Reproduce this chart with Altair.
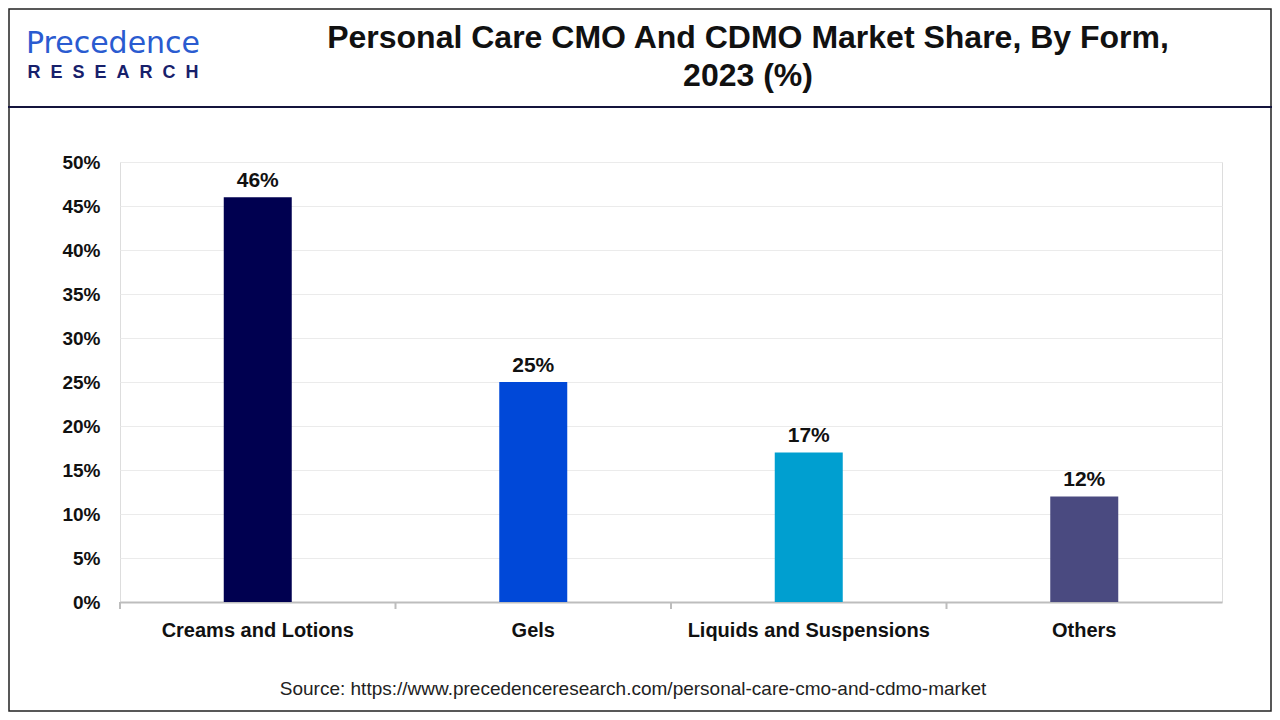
import altair as alt
import pandas as pd

categories = ["Creams and Lotions", "Gels", "Liquids and Suspensions", "Others"]
shares = [46, 25, 17, 12]
bar_colors = ["#000050", "#0048D8", "#009FD0", "#4A4A80"]
y_ticks = [0, 5, 10, 15, 20, 25, 30, 35, 40, 45, 50]
title_lines = ["Personal Care CMO And CDMO Market Share, By Form,", "2023 (%)"]
source_text = "Source: https://www.precedenceresearch.com/personal-care-cmo-and-cdmo-market"
logo_top = "Precedence"
logo_bottom = "\u00a0\u00a0".join(list("RESEARCH"))

FONT = "Liberation Sans"
W, H = 1102, 440
PAD = {"left": 112, "top": 154, "right": 50, "bottom": 110}

df = pd.DataFrame({
    "Form": categories,
    "Share": shares,
    "Label": [f"{v}%" for v in shares],
})

xenc = alt.X(
    "Form:N",
    sort=categories,
    scale=alt.Scale(paddingInner=0, paddingOuter=0),
    axis=alt.Axis(
        title=None, labelAngle=0, ticks=False, domainColor="#bdbdbd", domainWidth=2,
        labelFontSize=20, labelFontWeight="bold", labelColor="#111111", labelPadding=18,
        labelFont=FONT, labelLimit=0,
    ),
)
yenc = alt.Y(
    "Share:Q",
    scale=alt.Scale(domain=[0, 50]),
    axis=alt.Axis(
        title=None, values=y_ticks, labelExpr="datum.value + '%'", domain=False, ticks=False,
        labelPadding=20, labelFontSize=19, labelFontWeight="bold", labelColor="#111111",
        gridColor="#ebebeb", gridWidth=1, labelFont=FONT,
    ),
)

base = alt.Chart(df)
bars = base.mark_bar(size=68).encode(
    x=xenc,
    y=yenc,
    color=alt.Color("Form:N", scale=alt.Scale(domain=categories, range=bar_colors), legend=None),
)
labels = base.mark_text(baseline="bottom", dy=-6, fontSize=21, fontWeight="bold", color="#111111", font=FONT).encode(
    x=alt.X("Form:N", sort=categories),
    y="Share:Q",
    text="Label:N",
)
ticks = base.mark_rule(color="#bdbdbd", strokeWidth=2).encode(
    x=alt.X("Form:N", sort=categories, bandPosition=0),
    y=alt.value(H),
    y2=alt.value(H + 7),
)


def txt(s, x, y, **kw):
    return alt.Chart(pd.DataFrame({"t": [s]})).mark_text(**kw).encode(
        x=alt.value(x), y=alt.value(y), text="t:N"
    )


title1 = txt(title_lines[0], 628, -124, fontSize=32, fontWeight="bold", color="#111111", font=FONT)
title2 = txt(title_lines[1], 628, -86, fontSize=32, fontWeight="bold", color="#111111", font=FONT)
source = txt(source_text, 513, 527, fontSize=19, color="#222222", font=FONT)
logo1 = txt(logo_top, -7, -118, fontSize=30, color="#2a5bd0", font="DejaVu Sans")
logo2 = txt(logo_bottom, -7, -89, fontSize=18, fontWeight="bold", color="#17206b", font=FONT)

border = alt.Chart(pd.DataFrame({"a": [0]})).mark_rect(fill=None, stroke="#222222", strokeWidth=1.5).encode(
    x=alt.value(-111), x2=alt.value(W + 49), y=alt.value(-153), y2=alt.value(H + 109)
)
header_line = alt.Chart(pd.DataFrame({"a": [0]})).mark_rule(color="#14143c", strokeWidth=2).encode(
    x=alt.value(-112), x2=alt.value(W + 50), y=alt.value(-55)
)

chart = alt.layer(
    border, header_line, bars, ticks, labels, title1, title2, source, logo1, logo2
).properties(
    width=W, height=H, autosize=alt.AutoSizeParams(type="none"), padding=PAD, background="white"
).configure_view(stroke=None).configure(font=FONT)

chart.save("out.html", embed_options={"renderer": "svg", "actions": False})
